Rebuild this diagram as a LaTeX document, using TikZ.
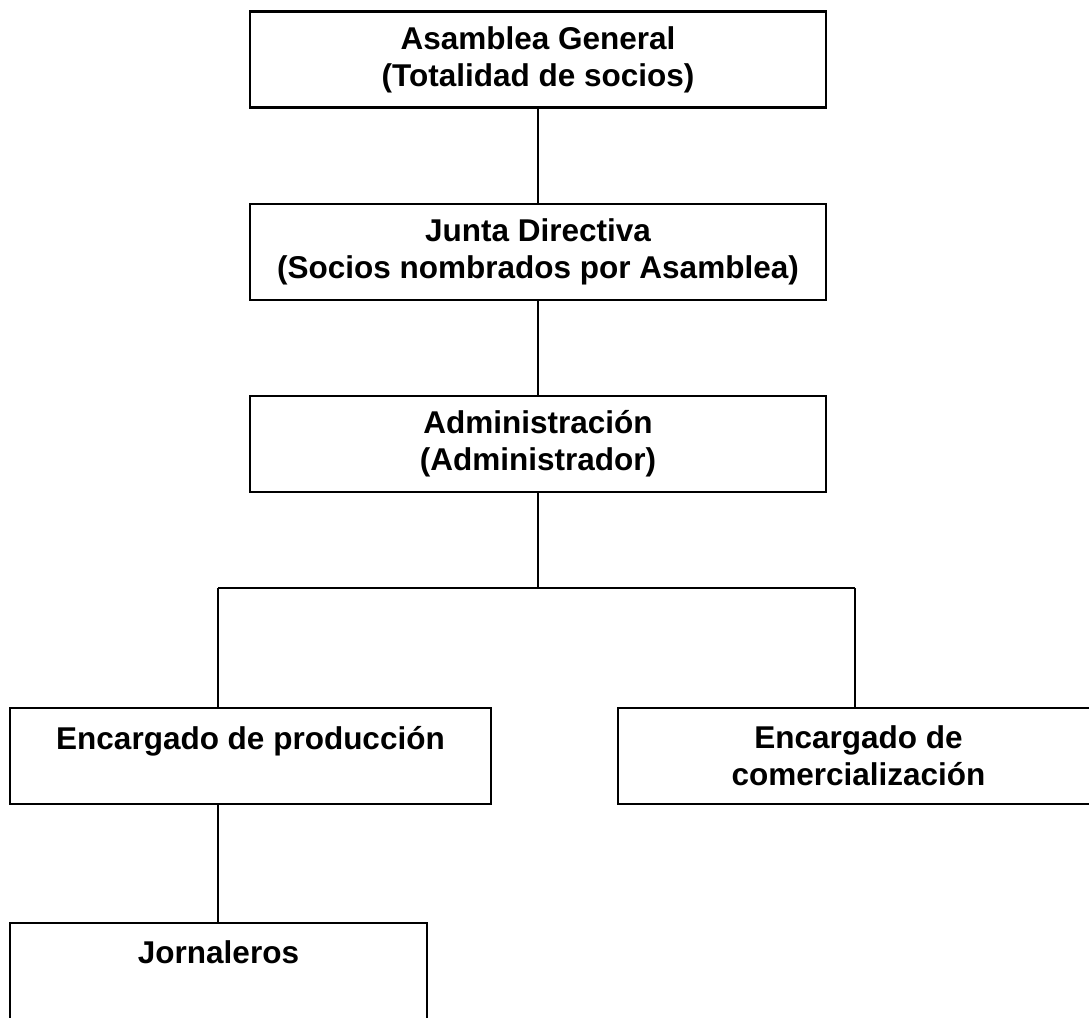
\documentclass[tikz,border=0pt]{standalone}
\usepackage{fontspec}
\setmainfont{Liberation Sans}
\begin{document}
\begin{tikzpicture}[x=1pt,y=-1pt,
    caja/.style={draw, line width=2.4pt, rectangle, inner sep=0pt, align=center,
      minimum height=96pt, font=\fontsize{31.5}{37}\selectfont\bfseries},
    linea/.style={line width=1.5pt}]
    \useasboundingbox (0,0) rectangle (1089,1017);
    \node[caja, minimum width=576pt] (asamblea) at (538,59.5){Asamblea General\\(Totalidad de socios)};
    \node[caja, minimum width=576pt] (junta) at (538,252){Junta Directiva\\(Socios nombrados por Asamblea)};
    \node[caja, minimum width=576pt] (admin) at (538,444){Administración\\(Administrador)};
    \node[caja, minimum width=481pt] (produccion) at (250.5,756){Encargado de producción\\~};
    \node[caja, minimum width=481pt] (comercial) at (858.5,756){Encargado de\\comercialización};
    \node[caja, minimum width=417pt] (jornaleros) at (218.5,971){Jornaleros\\~};
    \coordinate (split) at (538,588);
    \coordinate (izq) at (218,588);
    \coordinate (der) at (855,588);
    \draw[linea](asamblea)--(junta);
    \draw[linea](junta)--(admin);
    \draw[linea](admin)--(split);
    \draw[linea](izq)--(der);
    \draw[linea](izq)--(izq |- produccion.north);
    \draw[linea](der)--(der |- comercial.north);
    \draw[linea](produccion.south -| izq)--(jornaleros.north -| izq);
\end{tikzpicture}
\end{document}
